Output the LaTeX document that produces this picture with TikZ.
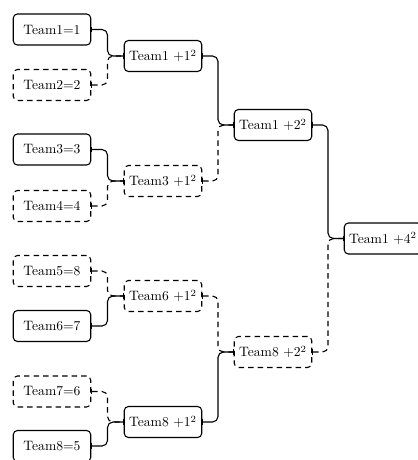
\documentclass[tikz,border=0pt]{standalone}
\usepackage{tikz}
\usetikzlibrary{arrows.meta,calc}

\tikzset{
  team/.style={draw,thick,rounded corners=3pt,minimum width=2cm,minimum height=0.8cm},
  lost/.style={team,dash pattern=on 4pt off 3pt},
  link/.style={thick,rounded corners=4pt,{Bar[width=4pt]}-{Bar[width=4pt]},
    to path={-| ($(\tikztostart)!.5!(\tikztotarget)$) |- (\tikztotarget)}},
  gone/.style={link,dash pattern=on 4pt off 3pt},
}

\begin{document}
\begin{tikzpicture}[x=0.735pt,y=-0.735pt]

\useasboundingbox (0,0) rectangle (418,460);

\node[team] (a1) at (52,29.5) {Team1=1};
\node[lost] (a2) at (52,85) {Team2=2};
\node[team] (a3) at (52,149.5) {Team3=3};
\node[lost] (a4) at (52,206) {Team4=4};
\node[lost] (a5) at (52,271) {Team5=8};
\node[team] (a6) at (52,326) {Team6=7};
\node[lost] (a7) at (52,391.5) {Team7=6};
\node[team] (a8) at (52,446) {Team8=5};

\node[team] (b1) at (163,56) {Team1 +1$^2$};
\node[lost] (b2) at (163,181) {Team3 +1$^2$};
\node[lost] (b3) at (163,296) {Team6 +1$^2$};
\node[team] (b4) at (163,422) {Team8 +1$^2$};

\node[team] (c1) at (273,125) {Team1 +2$^2$};
\node[lost] (c2) at (273,352) {Team8 +2$^2$};

\node[team] (d1) at (383,238.5) {Team1 +4$^2$};

\path (a1.east) edge[link] (b1.west) (a2.east) edge[gone] (b1.west)
      (a3.east) edge[link] (b2.west) (a4.east) edge[gone] (b2.west)
      (a5.east) edge[gone] (b3.west) (a6.east) edge[link] (b3.west)
      (a7.east) edge[gone] (b4.west) (a8.east) edge[link] (b4.west);

\path (b1.east) edge[link] (c1.west) (b2.east) edge[gone] (c1.west)
      (b3.east) edge[gone] (c2.west) (b4.east) edge[link] (c2.west);

\path (c1.east) edge[link] (d1.west) (c2.east) edge[gone] (d1.west);

\end{tikzpicture}
\end{document}
